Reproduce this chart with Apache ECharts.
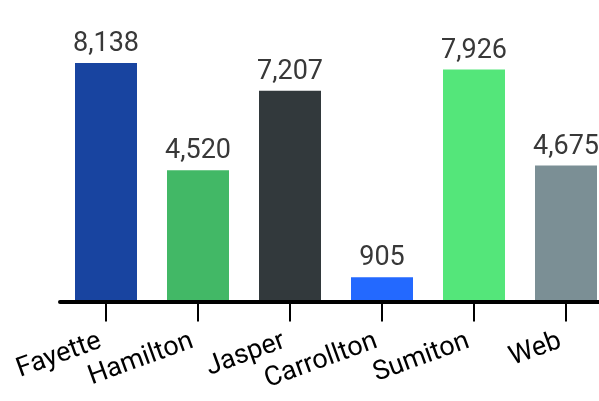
<!DOCTYPE html>
<html><head><meta charset="utf-8">
<script src="https://cdn.jsdelivr.net/npm/echarts@6/dist/echarts.min.js"></script>
<style>html,body{margin:0;padding:0;background:#fff}#c{width:599px;height:401px}</style>
</head><body><div id="c"></div>
<script>
var categories = ['Fayette','Hamilton','Jasper','Carrollton','Sumiton','Web'];
var values = [8138, 4520, 7207, 905, 7926, 4675];
var colors = ['#1844a0','#42b866','#32393c','#2369ff','#54e67a','#7b8f95'];
var chart = echarts.init(document.getElementById('c'));
chart.setOption({
  animation:false,
  grid:{left:60,right:-13,top:8,bottom:97,containLabel:false,outerBoundsMode:'none'},
  xAxis:{type:'category',data:categories,z:5,offset:-2.5,
    axisLine:{lineStyle:{color:'#000',width:4}},
    axisTick:{show:true,alignWithLabel:true,length:20,lineStyle:{color:'#000',width:2}},
    axisLabel:{rotate:20,color:'#000',fontSize:27,fontFamily:'Roboto',margin:37,interval:0,padding:[0,6,0,0]}},
  yAxis:{type:'value',min:0,max:10000,show:false,splitLine:{show:false}},
  series:[{type:'bar',barWidth:62,
    data:values.map(function(v,i){return {value:v,itemStyle:{color:colors[i]}};}),
    label:{show:true,position:'top',distance:5,color:'#383838',fontSize:27,fontFamily:'Roboto',
      formatter:function(p){return p.value.toLocaleString('en-US');}}}]
});
</script></body></html>
